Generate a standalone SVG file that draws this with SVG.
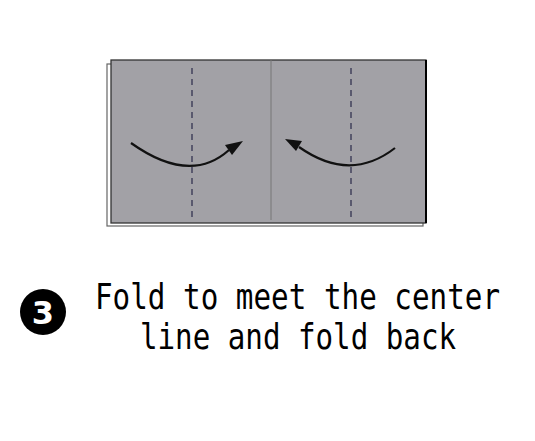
<svg xmlns="http://www.w3.org/2000/svg" width="535" height="441" viewBox="0 0 535 441">
<style>
.dash{stroke:#2a2a4a;stroke-width:1.2;stroke-dasharray:6,5;fill:none}
.arc{stroke:#111;stroke-width:2.2;fill:none}
.head{fill:#111}
.txt{font-family:"DejaVu Sans Mono","Liberation Mono",monospace;font-size:29px;fill:#000}
</style>
<rect width="535" height="441" fill="#fff"/>
<g id="paper">
<rect x="107" y="64" width="316" height="162" fill="#fff" stroke="#666" stroke-width="1.2"/>
<rect x="111" y="60" width="315" height="163" fill="#a2a1a6" stroke="#333" stroke-width="1.3"/>
<line x1="426" y1="60" x2="426" y2="223" stroke="#000" stroke-width="2"/>
<line x1="271" y1="60" x2="271" y2="220" stroke="#777" stroke-width="1"/>
</g>
<g id="connectors">
<line class="dash" x1="192" y1="68" x2="192" y2="219"/>
<line class="dash" x1="351" y1="68" x2="351" y2="219"/>
<path class="arc" d="M131,143 Q190,185 229,150"/>
<polygon class="head" points="243,141 225,145 232,155"/>
<path class="arc" d="M395,148 Q350,183 299,147"/>
<polygon class="head" points="285,139 302,141 296,151"/>
</g>
<g id="step">
<circle cx="43" cy="312" r="23" fill="#000"/>
<text x="43" y="323.5" text-anchor="middle" font-family="'DejaVu Sans',sans-serif" font-weight="bold" font-size="32" fill="#fff">3</text>
</g>
<g id="caption">
<text class="txt" transform="translate(95,309) scale(1,1.2)" x="0" y="0" textLength="405" lengthAdjust="spacingAndGlyphs">Fold to meet the center</text>
<text class="txt" transform="translate(140,349) scale(1,1.2)" x="0" y="0" textLength="316" lengthAdjust="spacingAndGlyphs">line and fold back</text>
</g>
</svg>
